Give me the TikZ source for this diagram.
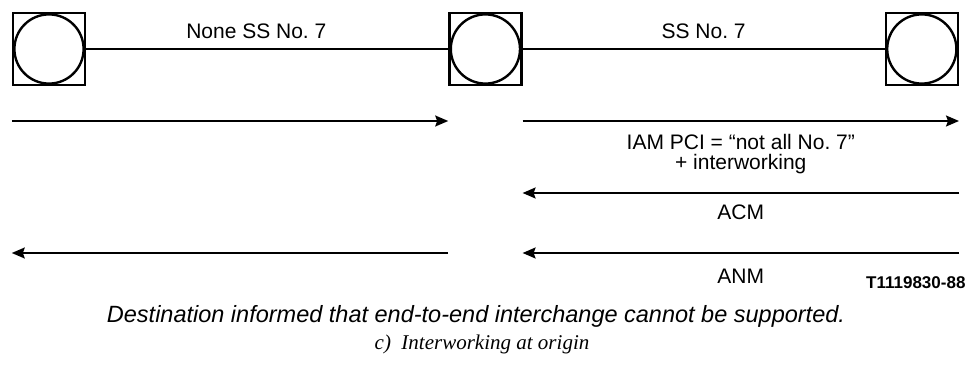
\documentclass[tikz,border=0pt]{standalone}
\usepackage{fontspec}
\setmainfont{Liberation Sans}
\newfontfamily\captionserif{Liberation Serif}
\usetikzlibrary{positioning}
\usetikzlibrary{calc}
\usetikzlibrary{arrows.meta}
\frenchspacing
\tikzstyle{exchange}=[draw, line width=2.4pt, minimum size=72pt, inner sep=0pt,
  path picture={\draw[line width=2.4pt] (path picture bounding box.center) circle (34.6pt);}]
\tikzstyle{trunk}=[line width=1.4pt]
\tikzstyle{msg}=[-{Stealth[length=13pt, width=11pt, inset=2pt]}, line width=1.8pt]
\tikzstyle{lbl}=[font=\fontsize{21}{20}\selectfont, align=center, inner sep=0pt]

\begin{document}
\begin{tikzpicture}[x=1pt, y=1pt, node distance=362pt]
    \useasboundingbox (0,0) rectangle (975,-374);

    \node[exchange] (exch1) at (49,-49)     {};
    \node[exchange] (exch2) [right = of exch1] {};
    \node[exchange] (exch3) [right = of exch2] {};

    \draw[trunk] (exch1) -- node[lbl, pos=0.47, above=10pt] {None SS No. 7} (exch2);
    \draw[trunk] (exch2) -- node[lbl, above=10pt] {SS No. 7} (exch3);

    % message rows
    \coordinate (iam1) at ($(exch1.west)+(0,-72)$);
    \coordinate (iam2) at ($(exch2.west)+(0,-72)$);
    \coordinate (iam3) at ($(exch2.east)+(0,-72)$);
    \coordinate (iam4) at ($(exch3.east)+(0,-72)$);
    \coordinate (acm3) at ($(exch2.east)+(0,-144)$);
    \coordinate (acm4) at ($(exch3.east)+(0,-144)$);
    \coordinate (anm1) at ($(exch1.west)+(0,-204)$);
    \coordinate (anm2) at ($(exch2.west)+(0,-204)$);
    \coordinate (anm3) at ($(exch2.east)+(0,-204)$);
    \coordinate (anm4) at ($(exch3.east)+(0,-204)$);

    \draw[msg] (iam1) -- (iam2);
    \draw[msg] (iam3) -- node[lbl, below=12pt] {IAM PCI = “not all No. 7”\\+ interworking} (iam4);
    \draw[msg] (acm4) -- node[lbl, below=11pt] {ACM} (acm3);
    \draw[msg] (anm2) -- (anm1);
    \draw[msg] (anm4) -- node[lbl, below=15pt] {ANM} (anm3);

    \node[font=\bfseries\fontsize{17}{17}\selectfont, anchor=east] (figcode) at (969,-283) {T1119830-88};
    \node[font=\itshape\fontsize{23.5}{23.5}\selectfont] (note) at (476,-316)
      {Destination informed that end-to-end interchange cannot be supported.};
    \node[font=\captionserif\itshape\fontsize{21}{21}\selectfont] (caption) at (482,-344)
      {c)~~Interworking at origin};
\end{tikzpicture}
\end{document}
